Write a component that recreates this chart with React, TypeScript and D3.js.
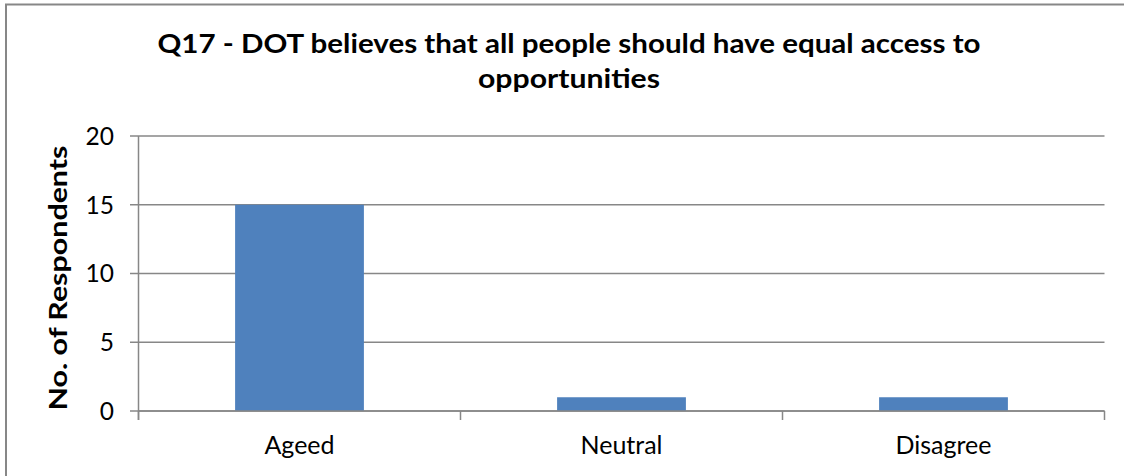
import React from "react";
import * as d3 from "d3";

const categories: string[] = ["Ageed", "Neutral", "Disagree"];
const values: number[] = [15, 1, 1];
const yTicks: number[] = [0, 5, 10, 15, 20];
const titleLines: string[] = [
  "Q17 - DOT believes that all people should have equal access to",
  "opportunities",
];
const yLabel = "No. of Respondents";

const W = 1124;
const H = 476;
const plot = { left: 138.5, right: 1104.5, top: 136, bottom: 411 };
const FONT = "Lato, 'Open Sans', 'Liberation Sans', sans-serif";
const GRID = "#878787";

export default function App() {
  const x = d3
    .scaleBand<string>()
    .domain(categories)
    .range([plot.left, plot.right])
    .padding(0);
  const y = d3.scaleLinear().domain([0, 20]).range([plot.bottom, plot.top]);
  const barW = x.bandwidth() * 0.4;
  const boundaries = [plot.left, ...categories.map((c) => (x(c) as number) + x.bandwidth())];

  return (
    <svg
      width={W}
      height={H}
      style={{ position: "absolute", left: 0, top: 0, background: "#fff" }}
    >
      <rect x={0} y={0} width={W} height={H} fill="#fff" />
      <rect x={6} y={4.5} width={W + 10} height={H + 10} fill="none" stroke={GRID} strokeWidth={2} />

      {/* title */}
      <text
        x={569}
        y={53}
        textAnchor="middle"
        fontFamily={FONT}
        fontWeight="bold"
        fontSize={26}
        textLength={823}
        lengthAdjust="spacingAndGlyphs"
        fill="#000"
      >
        {titleLines[0]}
      </text>
      <text
        x={569}
        y={88}
        textAnchor="middle"
        fontFamily={FONT}
        fontWeight="bold"
        fontSize={26}
        textLength={182}
        lengthAdjust="spacingAndGlyphs"
        fill="#000"
      >
        {titleLines[1]}
      </text>

      {/* gridlines */}
      {yTicks.map((t) => (
        <line
          key={"g" + t}
          x1={130}
          x2={plot.right}
          y1={y(t)}
          y2={y(t)}
          stroke={GRID}
          strokeWidth={1.5}
        />
      ))}

      {/* bars */}
      {categories.map((c, i) => {
        const cx = (x(c) as number) + x.bandwidth() / 2;
        return (
          <rect
            key={c}
            x={cx - barW / 2}
            y={y(values[i])}
            width={barW}
            height={y(0) - y(values[i])}
            fill="#4F81BD"
          />
        );
      })}

      {/* axes */}
      <line x1={plot.left} x2={plot.left} y1={plot.top} y2={420} stroke={GRID} strokeWidth={1.5} />
      <line x1={plot.left} x2={plot.right} y1={plot.bottom} y2={plot.bottom} stroke={GRID} strokeWidth={1.5} />
      {boundaries.map((b, i) => (
        <line key={"t" + i} x1={b} x2={b} y1={plot.bottom} y2={420} stroke={GRID} strokeWidth={1.5} />
      ))}

      {/* y tick labels */}
      {yTicks.map((t) => (
        <text
          key={"l" + t}
          x={114}
          y={y(t)}
          dy="0.36em"
          textAnchor="end"
          fontFamily={FONT}
          fontSize={24.5}
          fill="#000"
        >
          {t}
        </text>
      ))}

      {/* x labels */}
      {categories.map((c) => (
        <text
          key={"x" + c}
          x={(x(c) as number) + x.bandwidth() / 2}
          y={454}
          textAnchor="middle"
          fontFamily={FONT}
          fontSize={25}
          fill="#000"
        >
          {c}
        </text>
      ))}

      {/* y label */}
      <text
        transform={`translate(67, 278) rotate(-90)`}
        textAnchor="middle"
        fontFamily={FONT}
        fontWeight="bold"
        fontSize={25}
        textLength={265}
        lengthAdjust="spacingAndGlyphs"
        fill="#000"
      >
        {yLabel}
      </text>
    </svg>
  );
}
